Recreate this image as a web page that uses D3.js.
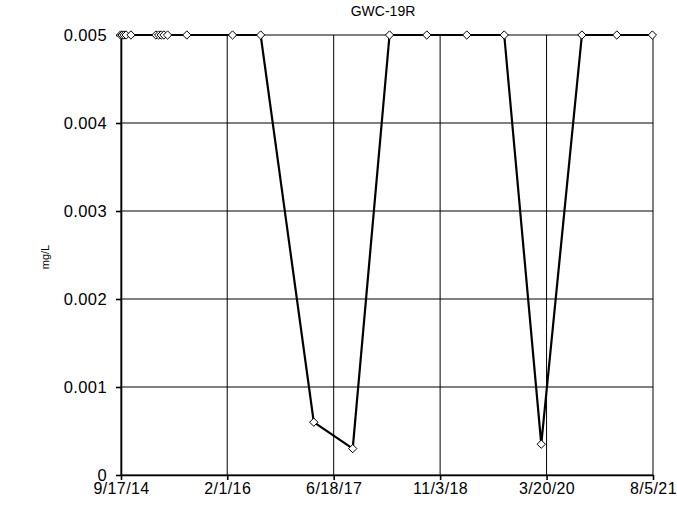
<!DOCTYPE html>
<html>
<head>
<meta charset="utf-8">
<script src="https://cdn.jsdelivr.net/npm/d3@7"></script>
<style>
  body { margin: 0; background: #fff; }
  svg { font-family: "Liberation Sans", Arial, sans-serif; }
</style>
</head>
<body>
<div id="chart"></div>
<script>
// sample dates and results (mg/L) for GWC-19R
const sampleDates = [
    "9/15/14", "9/22/14", "10/1/14", "10/11/14", "11/3/14",
    "3/1/15", "3/14/15", "3/26/15", "4/8/15", "4/25/15",
    "7/25/15", "2/26/16", "7/8/16", "3/16/17", "9/16/17",
    "3/9/18", "9/1/18", "3/9/19", "9/2/19", "2/24/20",
    "9/3/20", "2/15/21", "8/2/21"
];
const results = [
    0.005, 0.005, 0.005, 0.005, 0.005,
    0.005, 0.005, 0.005, 0.005, 0.005,
    0.005, 0.005, 0.005, 0.0006, 0.0003,
    0.005, 0.005, 0.005, 0.005, 0.00035,
    0.005, 0.005, 0.005
];
const xTickLabels = ["9/17/14", "2/1/16", "6/18/17", "11/3/18", "3/20/20", "8/5/21"];
const yTicks = [0, 0.001, 0.002, 0.003, 0.004, 0.005];

const parseDate = d3.timeParse("%-m/%-d/%y");
const data = sampleDates.map((d, i) => ({date: parseDate(d), value: results[i]}));
const xTicks = xTickLabels.map(parseDate);

const width = 677, height = 509;
const margin = {top: 35, right: 24, bottom: 34, left: 121};

const svg = d3.select("#chart").append("svg")
    .attr("width", width)
    .attr("height", height);

const x = d3.scaleTime()
    .domain([xTicks[0], xTicks[xTicks.length - 1]])
    .range([margin.left, width - margin.right]);

const y = d3.scaleLinear()
    .domain([0, 0.005])
    .range([height - margin.bottom, margin.top]);

// grid
svg.append("g")
    .selectAll("line")
    .data(yTicks)
    .join("line")
    .attr("x1", margin.left).attr("x2", width - margin.right)
    .attr("y1", d => y(d)).attr("y2", d => y(d))
    .attr("stroke", "#000").attr("stroke-width", 1);

svg.append("g")
    .selectAll("line")
    .data(xTicks)
    .join("line")
    .attr("x1", d => x(d)).attr("x2", d => x(d))
    .attr("y1", margin.top).attr("y2", height - margin.bottom)
    .attr("stroke", "#000").attr("stroke-width", 1);

// axes
const xAxis = d3.axisBottom(x)
    .tickValues(xTicks)
    .tickFormat((d, i) => xTickLabels[i])
    .tickSizeInner(5).tickSizeOuter(0).tickPadding(3);

svg.append("g")
    .attr("transform", `translate(0,${height - margin.bottom})`)
    .call(xAxis)
    .call(g => g.selectAll("text").attr("font-size", 16).attr("letter-spacing", 0.4).attr("fill", "#000"))
    .call(g => g.selectAll("line, path").attr("stroke", "#000").attr("stroke-width", 1.6));

const yAxis = d3.axisLeft(y)
    .tickValues(yTicks)
    .tickFormat(d => d === 0 ? "0" : d3.format(".3f")(d))
    .tickSizeInner(5).tickSizeOuter(0).tickPadding(9);

svg.append("g")
    .attr("transform", `translate(${margin.left},0)`)
    .call(yAxis)
    .call(g => g.selectAll("text").attr("font-size", 16.5).attr("letter-spacing", 0.4).attr("fill", "#000"))
    .call(g => g.selectAll("line, path").attr("stroke", "#000").attr("stroke-width", 1.6));

// data line
const line = d3.line()
    .x(d => x(d.date))
    .y(d => y(d.value));

svg.append("path")
    .datum(data)
    .attr("d", line)
    .attr("fill", "none")
    .attr("stroke", "#000")
    .attr("stroke-width", 2.2);

// diamond markers
svg.append("g")
    .selectAll("path")
    .data(data)
    .join("path")
    .attr("transform", d => `translate(${x(d.date)},${y(d.value)})`)
    .attr("d", d3.symbol(d3.symbolDiamond2, 44))
    .attr("fill", "#fff")
    .attr("stroke", "#000")
    .attr("stroke-width", 1);

// title and y label
svg.append("text")
    .attr("x", 383).attr("y", 16)
    .attr("text-anchor", "middle")
    .attr("font-size", 14)
    .text("GWC-19R");

svg.append("text")
    .attr("transform", `translate(49,257) rotate(-90)`)
    .attr("text-anchor", "middle")
    .attr("font-size", 11)
    .text("mg/L");
</script>
</body>
</html>
